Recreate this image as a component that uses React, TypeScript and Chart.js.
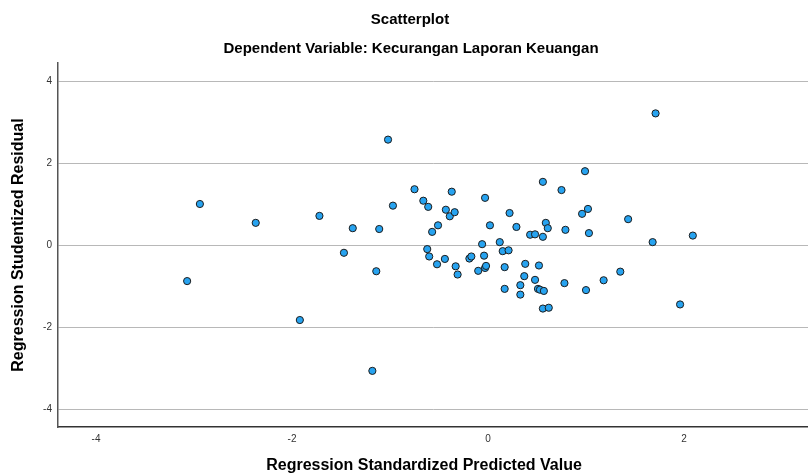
import React, { useEffect, useRef } from "react";
import { Chart, registerables } from "chart.js";

Chart.register(...registerables);

const titleText = "Scatterplot";
const subtitleText = "Dependent Variable: Kecurangan Laporan Keuangan";
const xAxisTitle = "Regression Standardized Predicted Value";
const yAxisTitle = "Regression Studentized Residual";

const xTickValues = [-4, -2, 0, 2];
const yTickValues = [-4, -2, 0, 2, 4];

// Regression standardized predicted values
const predicted = [
  -3.07, -2.94, -2.37, -1.72, -1.92, -1.47, -1.38, -1.11, -1.14, -1.18,
  -1.02, -0.97, -0.75, -0.66, -0.61, -0.51, -0.57, -0.43, -0.37, -0.39,
  -0.34, -0.03, 0.02, 0.22, 0.29, 0.43, 0.48, 0.56, 0.56, 0.59,
  0.61, 0.75, 0.79, 0.96, 0.99, 1.02, 1.03, 1.43, 1.71, 1.68,
  2.09, -0.62, -0.6, -0.52, -0.44, -0.33, -0.31, -0.19, -0.17, -0.06,
  -0.04, -0.1, -0.03, -0.02, 0.12, 0.15, 0.21, 0.17, 0.17, 0.38,
  0.37, 0.33, 0.33, 0.52, 0.48, 0.51, 0.53, 0.57, 0.56, 0.62,
  0.78, 1.0, 1.18, 1.35, 1.96,
];

// Regression studentized residuals
const residual = [
  -0.88, 1.0, 0.54, 0.71, -1.83, -0.19, 0.41, 0.39, -0.64, -3.07,
  2.57, 0.96, 1.36, 1.08, 0.93, 0.48, 0.32, 0.86, 1.3, 0.7,
  0.8, 1.15, 0.48, 0.78, 0.44, 0.25, 0.26, 0.2, 1.54, 0.54,
  0.41, 1.34, 0.37, 0.76, 1.8, 0.88, 0.29, 0.63, 3.21, 0.07,
  0.23, -0.1, -0.28, -0.47, -0.34, -0.52, -0.72, -0.33, -0.28, 0.02,
  -0.26, -0.63, -0.56, -0.51, 0.07, -0.15, -0.13, -0.54, -1.07, -0.46,
  -0.76, -0.98, -1.21, -0.5, -0.85, -1.07, -1.09, -1.12, -1.55, -1.53,
  -0.93, -1.1, -0.86, -0.65, -1.45,
];

const textPlugin = {
  id: "spssText",
  afterDraw(chart: any) {
    const { ctx, chartArea } = chart;
    ctx.save();
    ctx.fillStyle = "#000";
    ctx.textAlign = "center";
    ctx.textBaseline = "middle";
    ctx.font = "bold 15px 'Liberation Sans', Arial, sans-serif";
    ctx.fillText(titleText, 410, 20);
    ctx.fillText(subtitleText, 411, 49);
    ctx.font = "bold 16px 'Liberation Sans', Arial, sans-serif";
    ctx.fillText(xAxisTitle, 424, 466);
    ctx.translate(19, (chartArea.top + chartArea.bottom) / 2);
    ctx.rotate(-Math.PI / 2);
    ctx.fillText(yAxisTitle, 0, 0);
    ctx.restore();
  },
};

export default function App() {
  const canvasRef = useRef<HTMLCanvasElement | null>(null);

  useEffect(() => {
    if (!canvasRef.current) return;
    const points = predicted.map((x, i) => ({ x, y: residual[i] }));
    const chart = new Chart(canvasRef.current, {
      type: "scatter",
      data: {
        datasets: [
          {
            data: points,
            backgroundColor: "#27a3f0",
            borderColor: "#1c1c1c",
            borderWidth: 1,
            pointRadius: 3.6,
          },
        ],
      },
      options: {
        animation: false,
        responsive: false,
        maintainAspectRatio: false,
        layout: { autoPadding: false, padding: { top: 63, left: 0, right: 0, bottom: 0 } },
        plugins: {
          legend: { display: false },
          tooltip: { enabled: false },
          title: { display: false },
        },
        scales: {
          x: {
            type: "linear",
            min: (58 - 488) / 98,
            max: (808 - 488) / 98,
            afterFit: (s: any) => {
              s.height = 49;
              s.paddingLeft = 0;
              s.paddingRight = 0;
            },
            afterBuildTicks: (s: any) => {
              s.ticks = xTickValues.map((v) => ({ value: v }));
            },
            grid: { display: false, drawTicks: false },
            border: { display: true, color: "#333", width: 1.5 },
            ticks: {
              padding: 6,
              color: "#333",
              font: { size: 10, family: "'Liberation Sans', Arial, sans-serif" },
            },
          },
          y: {
            type: "linear",
            min: -182 / 41,
            max: 182 / 41,
            afterFit: (s: any) => {
              s.width = 58;
              s.paddingTop = 0;
              s.paddingBottom = 0;
            },
            afterBuildTicks: (s: any) => {
              s.ticks = yTickValues.map((v) => ({ value: v }));
            },
            grid: { display: true, color: "#b8b8b8", lineWidth: 1, drawTicks: false },
            border: { display: true, color: "#555", width: 1.5 },
            ticks: {
              padding: 6,
              color: "#333",
              font: { size: 10, family: "'Liberation Sans', Arial, sans-serif" },
            },
          },
        },
      },
      plugins: [textPlugin],
    });
    return () => chart.destroy();
  }, []);

  return (
    <div style={{ position: "fixed", left: 0, top: 0, width: 808, height: 476, background: "#fff" }}>
      <canvas ref={canvasRef} width={808} height={476} style={{ width: 808, height: 476 }} />
    </div>
  );
}
